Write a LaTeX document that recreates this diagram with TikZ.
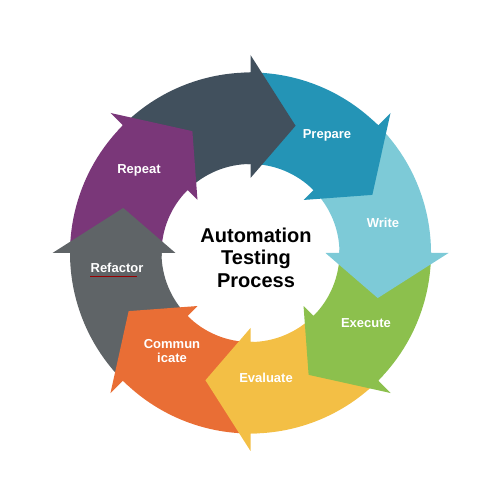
\documentclass[tikz,border=0pt]{standalone}
\usepackage{fontspec}
\setmainfont{Liberation Sans}
\definecolor{cdark}{HTML}{41505D}
\definecolor{cprep}{HTML}{2494B6}
\definecolor{cwrite}{HTML}{7DCAD7}
\definecolor{cexec}{HTML}{8CC04D}
\definecolor{ceval}{HTML}{F3BF45}
\definecolor{ccomm}{HTML}{E96E35}
\definecolor{crefa}{HTML}{5F6467}
\definecolor{crepe}{HTML}{7A3779}
\def\rin{89pt}
\def\rout{180.5pt}
\def\rfli{75pt}
\def\rflo{198pt}
\def\rtip{135pt}

\begin{document}
\begin{tikzpicture}[lbl/.style={text=white,font=\bfseries\fontsize{13}{14.5}\selectfont,align=center,inner sep=0pt},
		title/.style={text=black,font=\bfseries\fontsize{20}{22.5}\selectfont,align=center}]
	\useasboundingbox (0,0) rectangle (500pt,500pt);
	\begin{scope}[shift={(250.5pt,247pt)}]
		\foreach \a/\c in {90/cdark,45/cprep,0/cwrite,-45/cexec,-90/ceval,-135/ccomm,180/crefa,135/crepe}{
			\fill[\c] (\a+45:\rout) arc[start angle=\a+45,end angle=\a,radius=\rout]
				-- (\a:\rin) arc[start angle=\a,end angle=\a+45,radius=\rin] -- cycle;
		}
		\foreach \a/\c in {90/cdark,45/cprep,0/cwrite,-45/cexec,-90/ceval,-135/ccomm,180/crefa,135/crepe}{
			\fill[\c] (\a+2:\rout) arc[start angle=\a+2,end angle=\a,radius=\rout]
				-- (\a:\rflo) -- (\a-19.5:\rtip) -- (\a:\rfli)
				-- (\a:\rin) arc[start angle=\a,end angle=\a+2,radius=\rin] -- cycle;
		}
	\end{scope}
	\node[title] (centre) at (256pt,242.5pt) {Automation\\Testing\\Process};
	\node[lbl] (prepare) at (327pt,365pt) {Prepare};
	\node[lbl] (write) at (383pt,277pt) {Write};
	\node[lbl] (execute) at (366pt,177pt) {Execute};
	\node[lbl] (evaluate) at (266pt,122pt) {Evaluate};
	\node[lbl] (communicate) at (172pt,149pt) {Commun\\icate};
	\node[lbl] (refactor) at (117pt,232pt) {Refactor};
	\node[lbl] (repeat) at (139pt,330pt) {Repeat};
	\draw[red!60!black,line width=0.5pt] ([yshift=-3.5pt]refactor.base west) -- ([xshift=-7pt,yshift=-3.5pt]refactor.base east);
\end{tikzpicture}
\end{document}
